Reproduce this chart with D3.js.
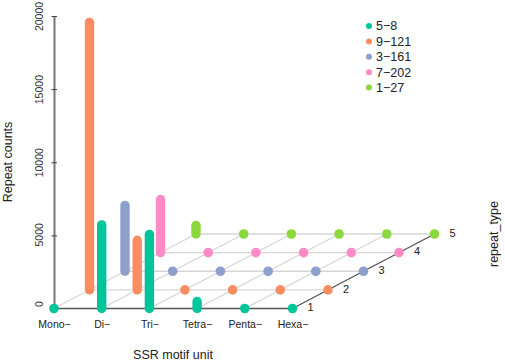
<!DOCTYPE html>
<html>
<head>
<meta charset="utf-8">
<script src="https://cdn.jsdelivr.net/npm/d3@7"></script>
<style>
	html, body { margin: 0; padding: 0; background: #fff; }
	svg { display: block; }
	text { font-family: 'Liberation Sans', Arial, sans-serif; fill: #222; }
</style>
</head>
<body>
<svg></svg>
<script>
const width = 505;
const height = 361;

const motifs = ['Mono−', 'Di−', 'Tri−', 'Tetra−', 'Penta−', 'Hexa−'];
const repeatTypes = [1, 2, 3, 4, 5];
const legendLabels = ['5−8', '9−121', '3−161', '7−202', '1−27'];
const colors = ['#00c49a', '#fc8d62', '#8da0cb', '#ff8ac6', '#8ad83c'];
const countTicks = [0, 5000, 10000, 15000, 20000];

// one array per repeat_type, in motif order
const type1 = [0, 5720, 5070, 480, 0, 0];
const type2 = [18290, 3390, 0, 0, 0, 0];
const type3 = [4500, 0, 0, 0, 0, 0];
const type4 = [3640, 0, 0, 0, 0, 0];
const type5 = [580, 0, 0, 0, 0, 0];
const series = [type1, type2, type3, type4, type5];

const svg = d3.select('svg').attr('width', width).attr('height', height);

// front row on screen, then a sheared depth axis for repeat_type
const xScale = d3.scalePoint().domain(motifs).range([54, 292.5]);
const depthX = d3.scalePoint().domain(repeatTypes).range([0, 142]);
const depthY = d3.scalePoint().domain(repeatTypes).range([308.5, 234]);
const yScale = d3.scaleLinear().domain([0, 20000]).range([308.5, 16]);

const px = (m, t) => xScale(m) + depthX(t);
const py = (t, v) => depthY(t) - (yScale(0) - yScale(v));

// Grid
const grid = svg.append('g');

repeatTypes.forEach((t) => {
	grid
		.append('line')
		.attr('x1', px(motifs[0], t))
		.attr('y1', depthY(t))
		.attr('x2', px(motifs[5], t))
		.attr('y2', depthY(t))
		.attr('stroke', t === 1 ? '#555' : '#d6d6d6')
		.attr('stroke-width', 1.4);
});

motifs.forEach((m, i) => {
	grid
		.append('line')
		.attr('x1', px(m, 1))
		.attr('y1', depthY(1))
		.attr('x2', px(m, 5))
		.attr('y2', depthY(5))
		.attr('stroke', i === 5 ? '#555' : '#d6d6d6')
		.attr('stroke-width', 1.4);
});

// Count axis
const yAxis = svg
	.append('g')
	.attr('transform', 'translate(54,0)')
	.call(d3.axisLeft(yScale).tickValues(countTicks).tickFormat(d3.format('d')).tickSizeOuter(0));
yAxis.select('.domain').attr('stroke', '#777').attr('stroke-width', 2);
yAxis.selectAll('.tick line').attr('stroke', '#444').attr('x1', -2.5).attr('x2', 3);
yAxis
	.selectAll('.tick text')
	// the 0 label sits a little above its tick in the original
	.attr('transform', (d) => `translate(-15,${d === 0 ? -5 : d === 5000 ? -1 : 0}) rotate(-90)`)
	.attr('x', 0)
	.attr('y', 0)
	.attr('dy', '0.35em')
	.attr('text-anchor', 'middle')
	.style('font-size', '10.5px')
	.style('font-family', "'Liberation Sans', Arial, sans-serif")
	.style('fill', '#333');

// Motif labels
const xAxis = svg
	.append('g')
	.attr('transform', 'translate(0,308.5)')
	.call(d3.axisBottom(xScale).tickSize(0));
xAxis.select('.domain').remove();
xAxis
	.selectAll('.tick text')
	.attr('y', 12)
	.style('font-size', '10.5px')
	.style('font-family', "'Liberation Sans', Arial, sans-serif")
	.style('fill', '#222');

// repeat_type labels
svg
	.append('g')
	.selectAll('text')
	.data(repeatTypes)
	.enter()
	.append('text')
	.attr('x', (t) => px(motifs[5], t) + 18)
	.attr('y', (t) => depthY(t) - 1)
	.attr('dy', '0.35em')
	.attr('text-anchor', 'middle')
	.style('font-size', '11px')
	.text((t) => t);

// Bars and dots, back row first
repeatTypes
	.slice()
	.reverse()
	.forEach((t, k) => {
		const idx = repeatTypes.length - 1 - k;
		const row = svg.append('g');
		series[idx].forEach((v, i) => {
			if (v > 0) {
				row
					.append('line')
					.attr('x1', px(motifs[i], t))
					.attr('x2', px(motifs[i], t))
					.attr('y1', depthY(t))
					.attr('y2', py(t, v))
					.attr('stroke', colors[idx])
					.attr('stroke-width', 9.4)
					.attr('stroke-linecap', 'round');
			} else {
				row
					.append('circle')
					.attr('cx', px(motifs[i], t))
					.attr('cy', depthY(t))
					.attr('r', 4.8)
					.attr('fill', colors[idx]);
			}
		});
	});

// Legend
const legend = svg
	.append('g')
	.selectAll('g')
	.data(legendLabels)
	.enter()
	.append('g')
	.attr('transform', (d, i) => `translate(369,${26 + i * 15.4})`);
legend.append('circle').attr('r', 3).attr('fill', (d, i) => colors[i]);
legend
	.append('text')
	.attr('x', 7)
	.attr('dy', '0.35em')
	.style('font-size', '12.5px')
	.text((d) => d);

// Axis titles
svg
	.append('text')
	.attr('x', 173)
	.attr('y', 359)
	.attr('text-anchor', 'middle')
	.style('font-size', '12.5px')
	.text('SSR motif unit');
svg
	.append('text')
	.attr('transform', 'translate(12,162) rotate(-90)')
	.attr('text-anchor', 'middle')
	.style('font-size', '12.5px')
	.text('Repeat counts');
svg
	.append('text')
	.attr('transform', 'translate(497.5,234) rotate(-90)')
	.attr('text-anchor', 'middle')
	.style('font-size', '12.5px')
	.text('repeat_type');
</script>
</body>
</html>
